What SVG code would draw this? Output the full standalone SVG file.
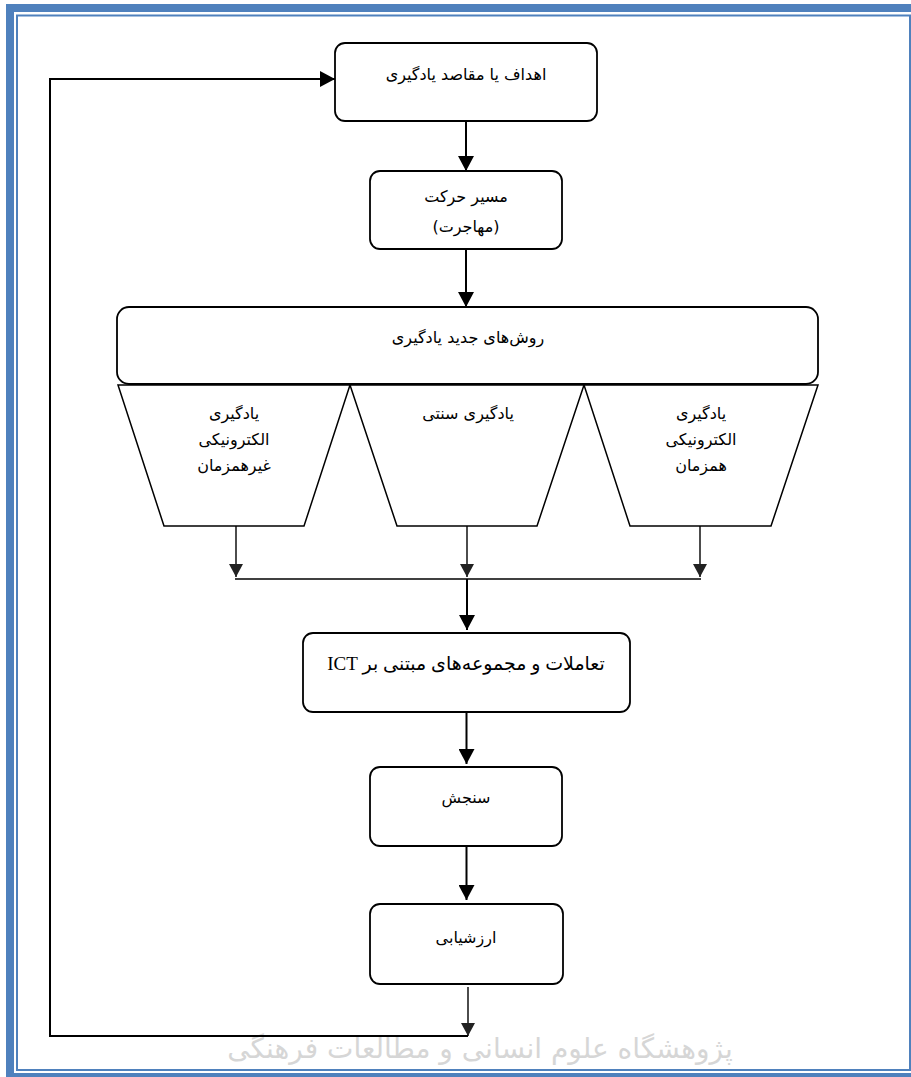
<svg xmlns="http://www.w3.org/2000/svg" width="911" height="1077" viewBox="0 0 911 1077">
<defs>
<style>
.box{fill:#fff;stroke:#000;stroke-width:1.8}
.trap{fill:#fff;stroke:#000;stroke-width:1.5}
.t{font-family:"DejaVu Sans","Noto Sans",sans-serif;font-size:16px;fill:#000;text-anchor:middle;direction:rtl}
.tl{font-family:"Liberation Serif","DejaVu Sans",serif;font-size:19px;fill:#000;text-anchor:middle;direction:rtl}
.c{fill:none;stroke:#000;stroke-width:2}
.cs{fill:none;stroke:#000;stroke-width:1.4}
.wm{font-family:"DejaVu Sans",sans-serif;font-size:28px;fill:#d6d6d6;text-anchor:middle;direction:rtl}
</style>
<marker id="ah" markerUnits="userSpaceOnUse" markerWidth="16" markerHeight="16" viewBox="0 0 15 16" refX="15" refY="8" orient="auto">
<path d="M0,0 L15,8 L0,16 Z" fill="#000"/>
</marker>
<marker id="ahs" markerUnits="userSpaceOnUse" markerWidth="14" markerHeight="14" viewBox="0 0 13 14" refX="13" refY="7" orient="auto">
<path d="M0,0 L13,7 L0,14 Z" fill="#222"/>
</marker>
</defs>
<rect width="911" height="1077" fill="#fff"/>
<g id="watermark">
<text class="wm" x="480" y="1058">پژوهشگاه علوم انسانی و مطالعات فرهنگی</text>
</g>
<g id="frame">
<rect x="10" y="8" width="915" height="1069" fill="none" stroke="#4F81BD" stroke-width="8"/>
<rect x="17" y="15.5" width="893" height="1054.5" fill="none" stroke="#4F81BD" stroke-width="2"/>
</g>
<g id="connectors">
<line class="c" x1="466" y1="121" x2="466" y2="171" marker-end="url(#ah)"/>
<line class="c" x1="466" y1="249" x2="466" y2="307" marker-end="url(#ah)"/>
<line class="cs" x1="236" y1="526" x2="236" y2="577" marker-end="url(#ahs)"/>
<line class="cs" x1="467" y1="526" x2="467" y2="577" marker-end="url(#ahs)"/>
<line class="cs" x1="700" y1="526" x2="700" y2="577" marker-end="url(#ahs)"/>
<line class="c" x1="235" y1="579" x2="701" y2="579" style="stroke-width:1.6"/>
<line class="c" x1="467" y1="579" x2="467" y2="630" marker-end="url(#ah)"/>
<line class="c" x1="466.5" y1="712" x2="466.5" y2="764" marker-end="url(#ah)"/>
<line class="c" x1="466.5" y1="846" x2="466.5" y2="900" marker-end="url(#ah)"/>
<line class="cs" x1="468" y1="987" x2="468" y2="1036" marker-end="url(#ahs)"/>
<polyline class="c" points="468,1036 50,1036 50,79 335,79" marker-end="url(#ah)"/>
</g>
<g id="n1">
<rect class="box" x="335" y="43" width="262" height="78" rx="10"/>
<text class="t" x="466" y="80">اهداف یا مقاصد یادگیری</text>
</g>
<g id="n2">
<rect class="box" x="370" y="171" width="192" height="78" rx="10"/>
<text class="t" x="466" y="202">مسیر حرکت</text>
<text class="t" x="466" y="232">(مهاجرت)</text>
</g>
<g id="n3">
<rect class="box" x="117" y="307" width="701" height="77" rx="12"/>
<text class="t" x="468" y="343">روش‌های جدید یادگیری</text>
</g>
<g id="n4">
<polygon class="trap" points="118,385 350,385 304,526 164,526"/>
<text class="t" x="234" y="419">یادگیری</text>
<text class="t" x="234" y="445">الکترونیکی</text>
<text class="t" x="234" y="471">غیرهمزمان</text>
</g>
<g id="n5">
<polygon class="trap" points="350,385 584,385 537,526 397,526"/>
<text class="t" x="468" y="419">یادگیری سنتی</text>
</g>
<g id="n6">
<polygon class="trap" points="584,385 818,385 771,526 630,526"/>
<text class="t" x="701" y="419">یادگیری</text>
<text class="t" x="701" y="445">الکترونیکی</text>
<text class="t" x="701" y="471">همزمان</text>
</g>
<g id="n7">
<rect class="box" x="303" y="633" width="327" height="79" rx="10"/>
<text class="tl" x="466" y="670">تعاملات و مجموعه‌های مبتنی بر ICT</text>
</g>
<g id="n8">
<rect class="box" x="370" y="767" width="192" height="79" rx="10"/>
<text class="t" x="466" y="803">سنجش</text>
</g>
<g id="n9">
<rect class="box" x="370" y="904" width="193" height="80" rx="10"/>
<text class="t" x="466" y="943">ارزشیابی</text>
</g>
</svg>
